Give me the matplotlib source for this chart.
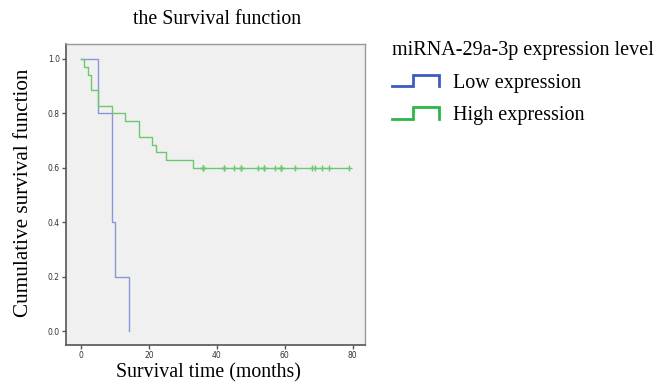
import numpy as np
import matplotlib
matplotlib.use("Agg")
import matplotlib.pyplot as plt
from matplotlib.lines import Line2D
from matplotlib.legend_handler import HandlerBase

# ---- data (months) ----
low_event_times = [5, 9, 9, 10, 14]
low_censor_times = []
high_event_times = [1, 2, 3, 3, 5, 5, 9, 13, 17, 17, 21, 22, 25, 33]
high_censor_times = [36, 36, 36, 42, 42, 45, 47, 47, 52, 54, 54, 57, 59, 59, 59,
                     63, 68, 69, 71, 73, 79]
group_labels = ["Low expression", "High expression"]
xticks = [0, 20, 40, 60, 80]
yticks = [0.0, 0.2, 0.4, 0.6, 0.8, 1.0]


def km(events, censors):
    times = np.array(list(events) + list(censors), dtype=float)
    ev = np.array([1] * len(events) + [0] * len(censors))
    uniq = np.unique(times[ev == 1])
    xs, ys = [0.0], [1.0]
    s = 1.0
    for t in uniq:
        at_risk = np.sum(times >= t)
        d = np.sum((times == t) & (ev == 1))
        s *= (1 - d / at_risk)
        xs.append(t)
        ys.append(s)
    last = times.max()
    if last > xs[-1]:
        xs.append(last)
        ys.append(ys[-1])
    return np.array(xs), np.array(ys)


def surv_at(xs, ys, t):
    idx = np.searchsorted(xs, t, side="right") - 1
    return ys[idx]


fig = plt.figure(figsize=(6.68, 3.84), dpi=100)
ax = fig.add_axes([66 / 668, 1 - 345 / 384, 299 / 668, 301 / 384])
ax.set_facecolor("#f0f0f0")

line_colors = ["#8a97d8", "#6cc870"]
legend_colors = ["#3b5cc2", "#2bb84a"]

for (ev, ce), col in zip([(low_event_times, low_censor_times),
                          (high_event_times, high_censor_times)], line_colors):
    xs, ys = km(ev, ce)
    ax.step(xs, ys, where="post", color=col, lw=1.0)
    if ce:
        cx = np.array(ce, dtype=float)
        cy = np.array([surv_at(xs, ys, t) for t in cx])
        ax.plot(cx, cy, linestyle="none", marker="+", color=col, ms=5, mew=1.0)

ax.set_xlim(-4.4, 83.6)
ax.set_ylim(-0.051, 1.055)
ax.set_xticks(xticks)
ax.set_xticklabels([str(t) for t in xticks])
ax.set_yticks(yticks)
ax.set_yticklabels([f"{t:.1f}" for t in yticks])
ax.tick_params(direction="out", length=3, width=1, color="#555555",
               labelsize=5.5, labelcolor="#333333", pad=1.5)
for sp in ["left", "bottom"]:
    ax.spines[sp].set_color("#555555")
    ax.spines[sp].set_linewidth(1.2)
for sp in ["top", "right"]:
    ax.spines[sp].set_color("#999999")
    ax.spines[sp].set_linewidth(1.0)

serif = "Liberation Serif"
fig.text(208 / 668, 1 - 373 / 384, "Survival time (months)", family=serif,
         fontsize=14.3, ha="center", va="center")
fig.text(24 / 668, 1 - 193 / 384, "Cumulative survival function", family=serif,
         fontsize=15.2, ha="center", va="center", rotation=90)
fig.text(217 / 668, 1 - 19 / 384, "the Survival function", family=serif,
         fontsize=14.3, ha="center", va="center")


class StepHandler(HandlerBase):
    def create_artists(self, legend, orig_handle, xdescent, ydescent, width,
                       height, fontsize, trans):
        x0, x1 = -xdescent, -xdescent + width
        xm = x0 + 0.45 * width
        ylo, yhi = -ydescent + 0.0 * height, -ydescent + 1.0 * height
        ln = Line2D([x0, xm, xm, x1, x1], [ylo, ylo, yhi, yhi, ylo],
                    color=orig_handle.get_color(), lw=2.0,
                    solid_joinstyle="miter", transform=trans)
        return [ln]


handles = [Line2D([], [], color=c) for c in legend_colors]
leg = fig.legend(handles, group_labels, loc="upper left",
                 bbox_to_anchor=(374 / 668, 1 - 23 / 384),
                 frameon=False, title="miRNA-29a-3p expression level",
                 prop={"family": serif, "size": 14.5},
                 title_fontproperties={"family": serif, "size": 14.5},
                 handler_map={Line2D: StepHandler()},
                 handlelength=2.35, handleheight=0.5, handletextpad=0.65,
                 labelspacing=0.67, alignment="left")

fig.savefig("out.png", dpi=100)
